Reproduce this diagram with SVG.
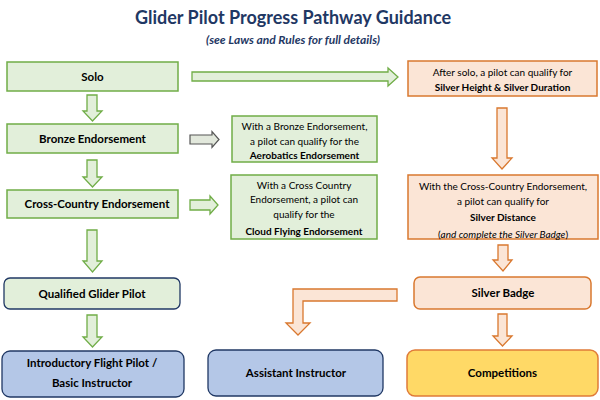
<svg xmlns="http://www.w3.org/2000/svg" width="600" height="400" viewBox="0 0 600 400">
<style>
text{font-family:Lato,"Open Sans","Liberation Sans",sans-serif;text-anchor:middle;fill:#000}
.t{font-size:18px;font-weight:bold;fill:#1f3864}
.st{font-size:12px;font-weight:bold;font-style:italic;fill:#1f3864}
.b{font-size:11.5px;font-weight:bold}
.s{font-size:10px}
.sb{font-size:10px;font-weight:bold}
.g{fill:#e2efda;stroke:#70ad47;stroke-width:1.5}
.o{fill:#fbe5d6;stroke:#d9782f;stroke-width:1.5}
.q{fill:#e2efda;stroke:#203864;stroke-width:1.3}
.bl{fill:#b4c7e7;stroke:#203864;stroke-width:1.3}
.y{fill:#ffd966;stroke:#e07b39;stroke-width:1.5}
.ga{fill:#e2efda;stroke:#70ad47;stroke-width:1.3}
.gr{fill:#e2e8dc;stroke:#555;stroke-width:1.2}
.oa{fill:#fbe5d6;stroke:#d9782f;stroke-width:1.3}
</style>
<text class="t" x="293" y="24">Glider Pilot Progress Pathway Guidance</text>
<text class="st" x="293" y="44">(see Laws and Rules for full details)</text>
<g id="connectors">
<polygon class="ga" points="87,95 97,95 97,111 102,111 92.5,121 83,111 87,111"/>
<polygon class="ga" points="87,160 97,160 97,177 102,177 92.5,187 83,177 87,177"/>
<polygon class="ga" points="87,230 97,230 97,261 102,261 92.5,272 83,261 87,261"/>
<polygon class="ga" points="87,315 97,315 97,337 102,337 92.5,347 83,337 87,337"/>
<polygon class="gr" points="190,135 212,135 212,131.5 219,139.5 212,147.5 212,144 190,144"/>
<polygon class="ga" points="190,200 210,200 210,196 218,205 210,214 210,210 190,210"/>
<polygon class="ga" points="192,72 388,72 388,68 398,77 388,86 388,81 192,81"/>
<polygon class="oa" points="497,108 507,108 507,158 512,158 502,169 492,158 497,158"/>
<polygon class="oa" points="498,245 508,245 508,260 512,260 503,271 493,260 498,260"/>
<polygon class="oa" points="498,314 507,314 507,336 512,336 502.5,346 493,336 498,336"/>
<polygon class="oa" points="397,289 293,289 293,323 286,323 298,335 310,323 303,323 303,301 397,301"/>
</g>
<g id="solo"><rect class="g" x="7" y="62" width="171" height="29"/><text class="b" x="92.5" y="80.5">Solo</text></g>
<g id="bronze"><rect class="g" x="7" y="124" width="171" height="29"/><text class="b" x="92.5" y="142.5">Bronze Endorsement</text></g>
<g id="cross-country"><rect class="g" x="7" y="190" width="171" height="28"/><text class="b" x="97" y="208">Cross-Country Endorsement</text></g>
<g id="aerobatics"><rect class="g" x="232" y="116" width="145" height="46"/>
<text class="s" x="304.5" y="129.5">With a Bronze Endorsement,</text>
<text class="s" x="304.5" y="144.5">a  pilot can qualify for the</text>
<text class="sb" x="304.5" y="158.5">Aerobatics Endorsement</text></g>
<g id="cloud"><rect class="g" x="231" y="175" width="146" height="64"/>
<text class="s" x="304" y="188.5">With a Cross Country</text>
<text class="s" x="304" y="202.5">Endorsement, a  pilot can</text>
<text class="s" x="304" y="217.5">qualify for the</text>
<text class="sb" x="304" y="234.5">Cloud Flying Endorsement</text></g>
<g id="after-solo"><rect class="o" x="408" y="61" width="189" height="35"/>
<text class="s" x="502.5" y="75.5">After solo, a pilot can qualify  for</text>
<text class="sb" x="502.5" y="90.5">Silver Height &amp; Silver Duration</text></g>
<g id="silver-distance"><rect class="o" x="408" y="175" width="190" height="64"/>
<text class="s" x="503" y="189.5">With the Cross-Country  Endorsement,</text>
<text class="s" x="503" y="204.5">a pilot can  qualify for</text>
<text class="sb" x="503" y="220.5">Silver Distance</text>
<text class="s" x="503" y="237.5">(<tspan font-style="italic">and complete the Silver Badge</tspan>)</text></g>
<g id="silver-badge"><rect class="o" x="414" y="277" width="177" height="32" rx="6"/><text class="b" x="503" y="297">Silver Badge</text></g>
<g id="qualified"><rect class="q" x="4" y="278" width="176" height="31" rx="6"/><text class="b" x="92" y="298">Qualified Glider Pilot</text></g>
<g id="introductory"><rect class="bl" x="2" y="351" width="182" height="46" rx="8"/>
<text class="b" x="92" y="367">Introductory Flight Pilot /</text>
<text class="b" x="92" y="387">Basic Instructor</text></g>
<g id="assistant"><rect class="bl" x="208" y="350" width="175" height="46" rx="8"/><text class="b" x="296" y="377">Assistant Instructor</text></g>
<g id="competitions"><rect class="y" x="407" y="350" width="191" height="46" rx="8"/><text class="b" x="502.5" y="377">Competitions</text></g>
</svg>
